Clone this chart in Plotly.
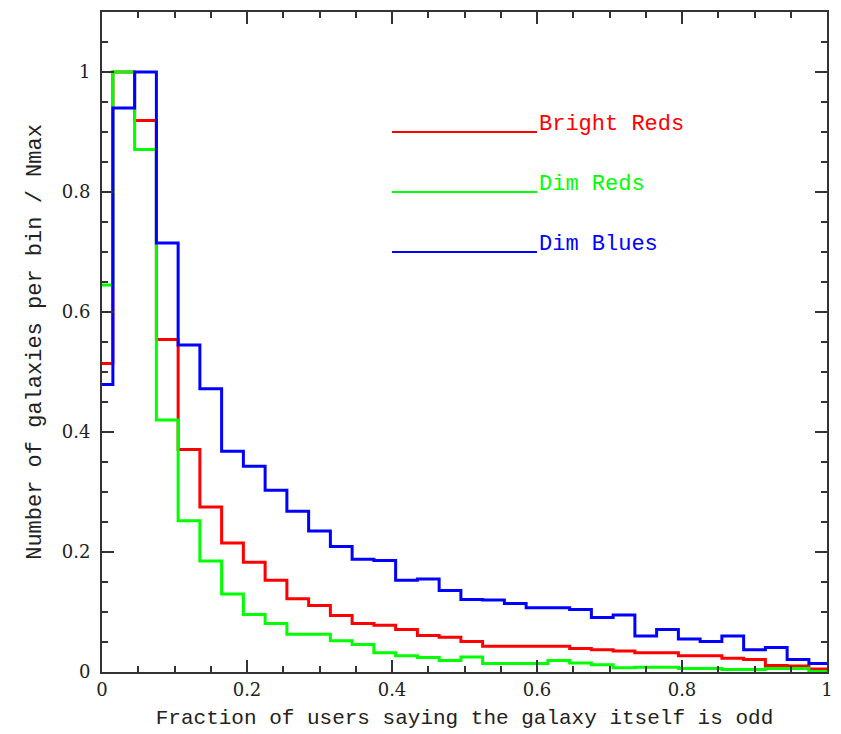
import plotly.graph_objects as go

# Histogram bin centres (fraction of users), bin width 0.03
bin_centers = [0.00, 0.03, 0.06, 0.09, 0.12, 0.15, 0.18, 0.21, 0.24, 0.27,
               0.30, 0.33, 0.36, 0.39, 0.42, 0.45, 0.48, 0.51, 0.54, 0.57,
               0.60, 0.63, 0.66, 0.69, 0.72, 0.75, 0.78, 0.81, 0.84, 0.87,
               0.90, 0.93, 0.96, 0.99]
bin_width = 0.03

bright_reds = [0.514, 1.000, 0.919, 0.554, 0.371, 0.275, 0.215, 0.183, 0.153, 0.122,
               0.111, 0.094, 0.081, 0.078, 0.071, 0.061, 0.058, 0.051, 0.043, 0.043,
               0.043, 0.043, 0.039, 0.037, 0.035, 0.032, 0.032, 0.027, 0.027, 0.023,
               0.021, 0.011, 0.010, 0.005]
dim_reds = [0.645, 1.000, 0.871, 0.420, 0.252, 0.185, 0.130, 0.096, 0.081, 0.063,
            0.063, 0.052, 0.046, 0.032, 0.027, 0.024, 0.019, 0.025, 0.014, 0.014,
            0.014, 0.019, 0.015, 0.012, 0.007, 0.008, 0.008, 0.006, 0.006, 0.004,
            0.004, 0.006, 0.006, 0.001]
dim_blues = [0.479, 0.940, 1.000, 0.715, 0.545, 0.472, 0.368, 0.343, 0.303, 0.268,
             0.235, 0.209, 0.188, 0.186, 0.153, 0.155, 0.136, 0.121, 0.120, 0.114,
             0.107, 0.107, 0.104, 0.091, 0.095, 0.060, 0.071, 0.055, 0.051, 0.060,
             0.037, 0.041, 0.021, 0.014]

series_names = ["Bright Reds", "Dim Reds", "Dim Blues"]
series_colors = ["#ff0000", "#00ff00", "#0000ff"]
legend_y = [0.9, 0.8, 0.7]
legend_x = [0.4, 0.6]

FONT = "DejaVu Serif"
TFONT = "Liberation Mono"

fig = go.Figure()
edges = [c - bin_width / 2 for c in bin_centers] + [bin_centers[-1] + bin_width / 2]
for name, vals, col in zip(series_names, [bright_reds, dim_reds, dim_blues], series_colors):
    fig.add_trace(go.Scatter(
        x=edges, y=list(vals) + [vals[-1]], mode="lines",
        line=dict(color=col, width=3, shape="hv"),
        name=name, showlegend=False, cliponaxis=True))

for name, col, ly in zip(series_names, series_colors, legend_y):
    fig.add_shape(type="line", x0=legend_x[0], x1=legend_x[1], y0=ly, y1=ly,
                  xref="x", yref="y", line=dict(color=col, width=2))
    fig.add_annotation(x=legend_x[1], y=ly, xref="x", yref="y", text=name,
                       showarrow=False, xanchor="left", yanchor="bottom", yshift=-7, xshift=0,
                       font=dict(family=TFONT, size=22, color=col))

axis_common = dict(
    showgrid=False, zeroline=False, showline=True, linecolor="#333333", linewidth=2,
    mirror="allticks", ticks="inside", ticklen=12, tickwidth=1.5, tickcolor="#333333",
    tickfont=dict(family=FONT, size=18, color="#222222"), automargin=False,
    minor=dict(ticks="inside", ticklen=6, tickwidth=1.5, tickcolor="#333333", dtick=0.05),
)

fig.update_xaxes(range=[0, 1], dtick=0.2, **axis_common,
                 title=dict(text="Fraction of users saying the galaxy itself is odd",
                            font=dict(family=TFONT, size=21, color="#222222"), standoff=11))
fig.update_yaxes(range=[0, 1.1], tickvals=[0, 0.2, 0.4, 0.6, 0.8, 1.0],
                 ticktext=["0", "0.2", "0.4", "0.6", "0.8", "1"], ticklabelstandoff=6,
                 **axis_common,
                 title=dict(text="Number of galaxies per bin / Nmax",
                            font=dict(family=TFONT, size=22, color="#222222"), standoff=14))

fig.update_layout(
    width=841, height=734,
    margin=dict(l=102, r=14, t=12, b=62),
    plot_bgcolor="white", paper_bgcolor="white",
)

fig.write_html("out.html")
